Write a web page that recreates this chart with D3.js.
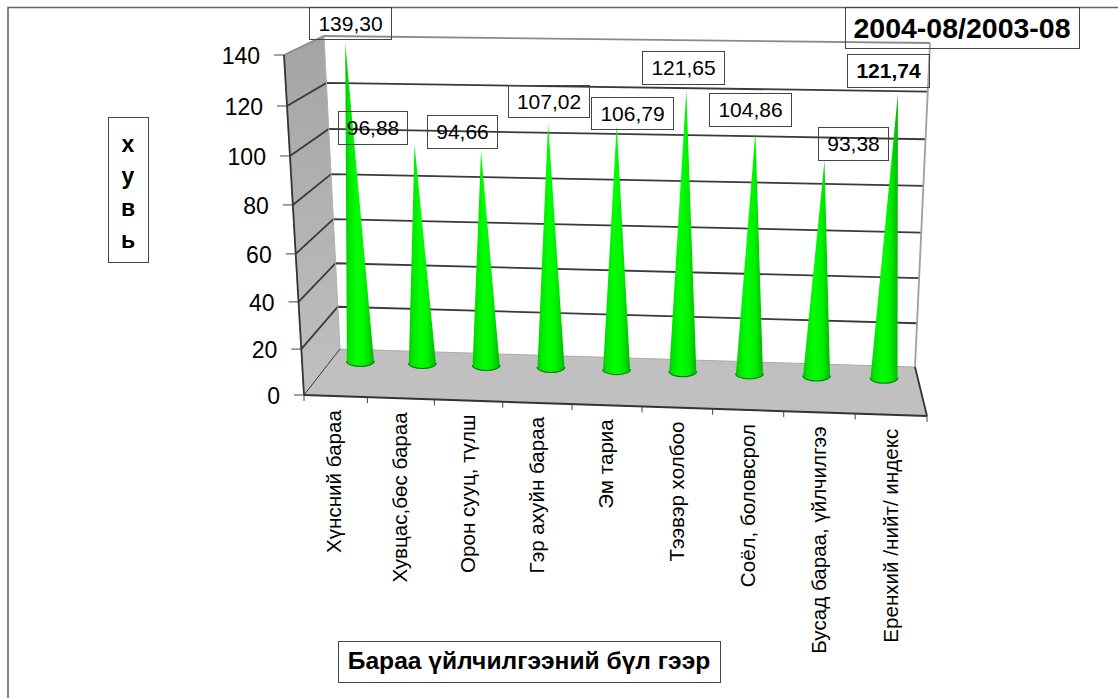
<!DOCTYPE html>
<html><head><meta charset="utf-8">
<script src="https://cdn.jsdelivr.net/npm/d3@7"></script>
<style>html,body{margin:0;padding:0;background:#fff}svg{display:block}text{font-family:"Liberation Sans",Arial,sans-serif;fill:#000}</style>
</head><body><svg id="c" width="1118" height="698"></svg>
<script>
const categories=["Хүнсний бараа","Хувцас,бөс бараа","Орон сууц, түлш","Гэр ахуйн бараа","Эм тариа","Тээвэр холбоо","Соёл, боловсрол","Бусад бараа, үйлчилгээ","Еренхий /нийт/ индекс"];
const values=[139.30,96.88,94.66,107.02,106.79,121.65,104.86,93.38,121.74];
const valueLabels=["139,30","96,88","94,66","107,02","106,79","121,65","104,86","93,38","121,74"];
const yTicks=[0,20,40,60,80,100,120,140];
const titleText="2004-08/2003-08";
const yTitle=["х","у","в","ь"];
const xTitle="Бараа үйлчилгээний бүл гээр";
// layout
const labelBoxes=[[309,7,82,32],[338,111,69,33],[427,115,70,33],[508,85,81,32],[591,97,82,32],[642,51,82,33],[709,93,82,33],[818,127,70,33],[847,54,82,33]];
const C={bl:[340,349,324,36],br:[915,367,930,43],fl:[304,395,284,55],fr:[927,416,955,66]};
const depth=0.24;

const svg=d3.select("#c");
const defs=svg.append("defs");
const lift=d3.scaleLinear().domain(yTicks).range([0,.135,.274,.415,.559,.703,.85,1]);
const warp=d3.scalePow().exponent(1.04).domain([0,1]).range([0,1]);
const uScale=d3.scaleBand().domain(categories).range([0,1]);
const lerp=(a,b,t)=>a+(b-a)*t;
function corner(c,v){const f=lift(v);return [lerp(c[0],c[2],f),lerp(c[1],c[3],f)];}
function project(v,u0,d){ // d: 0 back, 1 front
  const u=warp(u0);
  const bl=corner(C.bl,v),br=corner(C.br,v),fl=corner(C.fl,v),fr=corner(C.fr,v);
  const b=[lerp(bl[0],br[0],u),lerp(bl[1],br[1],u)],f=[lerp(fl[0],fr[0],u),lerp(fl[1],fr[1],u)];
  return [lerp(b[0],f[0],d),lerp(b[1],f[1],d)];
}
const line=d3.line();
const P=(pts,close)=>line(pts)+(close?"Z":"");

// outer frame
svg.append("path").attr("d","M8,698V7.5H1118").attr("fill","none").attr("stroke","#666").attr("stroke-width",1.6);

// gradients
const wg=defs.append("linearGradient").attr("id","wallFill").attr("x1",0).attr("y1",0).attr("x2",0).attr("y2",1);
wg.append("stop").attr("offset",0).attr("stop-color","#a4a4a4");
wg.append("stop").attr("offset",1).attr("stop-color","#c0c0c0");
const cg=defs.append("linearGradient").attr("id","coneFill").attr("x1",0).attr("y1",0).attr("x2",1).attr("y2",0);
[[0,"#00c400"],[.12,"#00e400"],[.42,"#00ff00"],[.7,"#00f000"],[1,"#00b800"]].forEach(s=>cg.append("stop").attr("offset",s[0]).attr("stop-color",s[1]));

// left wall and floor
svg.append("path").attr("d",P([corner(C.fl,0),corner(C.bl,0),corner(C.bl,140),corner(C.fl,140)],1)).attr("fill","url(#wallFill)");
svg.append("path").attr("d",P([corner(C.fl,0),corner(C.bl,0),corner(C.br,0),corner(C.fr,0)],1)).attr("fill","#c0c0c0");

// gridlines
const gridTicks=yTicks.filter(t=>t>0);
svg.selectAll(".grid").data(gridTicks).join("path")
 .attr("d",t=>P([corner(C.fl,t),corner(C.bl,t),corner(C.br,t)]))
 .attr("fill","none").attr("stroke",t=>t===140?"#8a8a8a":"#3a3a3a").attr("stroke-width",1.8);
const edge=(a,b,col,w)=>svg.append("path").attr("d",P([a,b])).attr("fill","none").attr("stroke",col).attr("stroke-width",w);
edge(corner(C.bl,0),corner(C.bl,140),"#b0b0b0",1);
edge(corner(C.br,0),corner(C.br,140),"#a0a0a0",1.8);
edge(corner(C.bl,0),corner(C.br,0),"#aaa",1);

// axes edges
edge(corner(C.fl,0),corner(C.fl,140),"#333",1.8);
edge(corner(C.fl,0),corner(C.fr,0),"#333",2);
edge(corner(C.fr,0),corner(C.br,0),"#333",1.8);
edge(corner(C.bl,0),corner(C.fl,0),"#333",1);

// y ticks
const yT=svg.append("g");
yTicks.forEach(t=>{const p=corner(C.fl,t);
  yT.append("line").attr("x1",p[0]-10).attr("x2",p[0]).attr("y1",p[1]).attr("y2",p[1]).attr("stroke","#444").attr("stroke-width",1);
  yT.append("text").attr("x",p[0]-24).attr("y",p[1]+9).attr("text-anchor","end").attr("font-size",23).text(t);
});
// x ticks
d3.range(categories.length+1).forEach(i=>{
  const p=project(0,i/categories.length,1);
  svg.append("line").attr("x1",p[0]).attr("x2",p[0]).attr("y1",p[1]).attr("y2",p[1]+6).attr("stroke","#444").attr("stroke-width",1);
});
// category labels
categories.forEach((c,i)=>{
  const p=project(0,uScale(c)+uScale.bandwidth()/2,1);
  svg.append("text").attr("transform",`translate(${p[0]+6.5},${p[1]+14})rotate(-90)`).attr("text-anchor","end").attr("font-size",20.6).text(c);
});

// cones
const rx=13.5,ry=5;
const cones=svg.selectAll(".cone").data(values).join("g");
cones.each(function(v,i){
  const u=uScale(categories[i])+uScale.bandwidth()/2;
  const b=project(0,u,depth),t=project(v,u,depth);
  const d=`M${b[0]-rx},${b[1]}L${t[0]},${t[1]}L${b[0]+rx},${b[1]}A${rx},${ry} 0 0 1 ${b[0]-rx},${b[1]}Z`;
  const g=d3.select(this);
  g.append("path").attr("d",`M${b[0]+rx},${b[1]}A${rx},${ry} 0 0 1 ${b[0]-rx},${b[1]}`).attr("fill","none").attr("stroke","#0a7a0a").attr("stroke-width",2);
  g.append("path").attr("d",d).attr("fill","url(#coneFill)");
});

// boxed text
function box(x,y,w,h){svg.append("rect").attr("x",x+.5).attr("y",y+.5).attr("width",w).attr("height",h).attr("fill","none").attr("stroke","#444").attr("stroke-width",1);}
valueLabels.forEach((s,i)=>{const b=labelBoxes[i],last=i===valueLabels.length-1;
  box(b[0],b[1],b[2],b[3]);
  svg.append("text").attr("x",b[0]+b[2]/2+.5).attr("y",b[1]+b[3]/2+7.5).attr("text-anchor","middle").attr("font-size",21).attr("font-weight",last?"bold":"normal").text(s);
});
box(845,7,234,41);
svg.append("text").attr("x",962).attr("y",38).attr("text-anchor","middle").attr("font-size",28.5).attr("font-weight","bold").text(titleText);
box(108,117,40,145);
yTitle.forEach((s,i)=>svg.append("text").attr("x",128).attr("y",152+i*32).attr("text-anchor","middle").attr("font-size",23).attr("font-weight","bold").text(s));
box(338,641,382,41);
svg.append("text").attr("x",529).attr("y",669).attr("text-anchor","middle").attr("font-size",24.6).attr("font-weight","bold").text(xTitle);
</script></body></html>
